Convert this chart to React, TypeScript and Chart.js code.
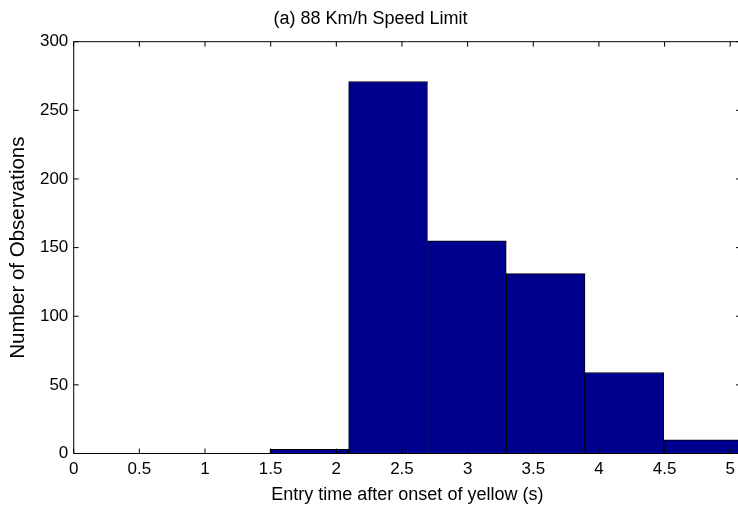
import React, { useEffect, useRef } from "react";
import { Chart, registerables } from "chart.js";

Chart.register(...registerables);

const chartTitle = "(a) 88 Km/h Speed Limit";
const xAxisTitle = "Entry time after onset of yellow (s)";
const yAxisTitle = "Number of Observations";

// histogram bin centres (s) and counts
const binCenters = [1.794, 2.394, 2.994, 3.594, 4.194, 4.794];
const binCounts = [3, 271, 155, 131, 59, 10];

const xTickValues = [0, 0.5, 1, 1.5, 2, 2.5, 3, 3.5, 4, 4.5, 5];
const yTickValues = [0, 50, 100, 150, 200, 250, 300];
const xMin = 0;
const xMax = 5.082;
const yMin = 0;
const yMax = 300;

const FONT = "'Liberation Sans', Arial, Helvetica, sans-serif";

const framePlugin = {
  id: "matlabFrame",
  afterDatasetsDraw(chart: any) {
    const { ctx, chartArea, scales } = chart;
    const { left, right, top, bottom } = chartArea;
    const tl = 5;
    ctx.save();
    ctx.strokeStyle = "#000";
    ctx.lineWidth = 1;
    ctx.beginPath();
    ctx.rect(left, top, right - left, bottom - top);
    ctx.stroke();
    ctx.beginPath();
    for (const v of xTickValues) {
      const px = scales.x.getPixelForValue(v);
      ctx.moveTo(px, bottom);
      ctx.lineTo(px, bottom - tl);
      ctx.moveTo(px, top);
      ctx.lineTo(px, top + tl);
    }
    for (const v of yTickValues) {
      const py = scales.y.getPixelForValue(v);
      ctx.moveTo(left, py);
      ctx.lineTo(left + tl, py);
      ctx.moveTo(right, py);
      ctx.lineTo(right - tl, py);
    }
    ctx.stroke();
    ctx.restore();
  },
};

export default function App() {
  const canvasRef = useRef<HTMLCanvasElement | null>(null);

  useEffect(() => {
    if (!canvasRef.current) return;
    const chart = new Chart(canvasRef.current, {
      type: "bar",
      data: {
        datasets: [
          {
            data: binCenters.map((c, i) => ({ x: c, y: binCounts[i] })),
            backgroundColor: "#00008F",
            borderColor: "#000000",
            borderWidth: 1,
            barThickness: "flex",
            barPercentage: 1,
            categoryPercentage: 1,
          },
        ],
      },
      options: {
        animation: false,
        responsive: true,
        maintainAspectRatio: false,
        layout: { padding: { left: 0, right: 1, top: 0, bottom: 0 } },
        plugins: {
          legend: { display: false },
          tooltip: { enabled: false },
          title: {
            display: true,
            text: chartTitle,
            color: "#000",
            font: { family: FONT, size: 18, weight: "normal" },
            padding: { top: 8.7, bottom: 11.4 },
          },
        },
        scales: {
          x: {
            type: "linear",
            min: xMin,
            max: xMax,
            offset: false,
            grid: { display: false, drawTicks: false },
            border: { display: false },
            afterBuildTicks: (scale: any) => {
              scale.ticks = xTickValues.map((v) => ({ value: v }));
            },
            afterFit: (scale: any) => {
              scale.height = 52.5;
            },
            ticks: {
              color: "#000",
              padding: 5.7,
              maxRotation: 0,
              autoSkip: false,
              font: { family: FONT, size: 17 },
              callback: (v: any) => String(Math.round(Number(v) * 10) / 10),
            },
            title: {
              display: true,
              text: xAxisTitle,
              color: "#000",
              font: { family: FONT, size: 18 },
              padding: { top: 0, bottom: 0.5 },
            },
          },
          y: {
            min: yMin,
            max: yMax,
            grid: { display: false, drawTicks: false },
            border: { display: false },
            afterBuildTicks: (scale: any) => {
              scale.ticks = yTickValues.map((v) => ({ value: v }));
            },
            afterFit: (scale: any) => {
              scale.width = 73.7;
            },
            ticks: {
              color: "#000",
              padding: 5.4,
              autoSkip: false,
              font: { family: FONT, size: 17 },
              callback: (v: any) => String(v),
            },
            title: {
              display: true,
              text: yAxisTitle,
              color: "#000",
              font: { family: FONT, size: 20.5 },
              padding: { top: 6.1, bottom: 0 },
            },
          },
        },
      },
      plugins: [framePlugin],
    } as any);
    return () => chart.destroy();
  }, []);

  return (
    <div
      style={{
        position: "fixed",
        left: 0,
        top: 0,
        width: 738,
        height: 506,
        overflow: "hidden",
        background: "#fff",
      }}
    >
      <div style={{ position: "relative", width: 742, height: 506 }}>
        <canvas ref={canvasRef} />
      </div>
    </div>
  );
}
